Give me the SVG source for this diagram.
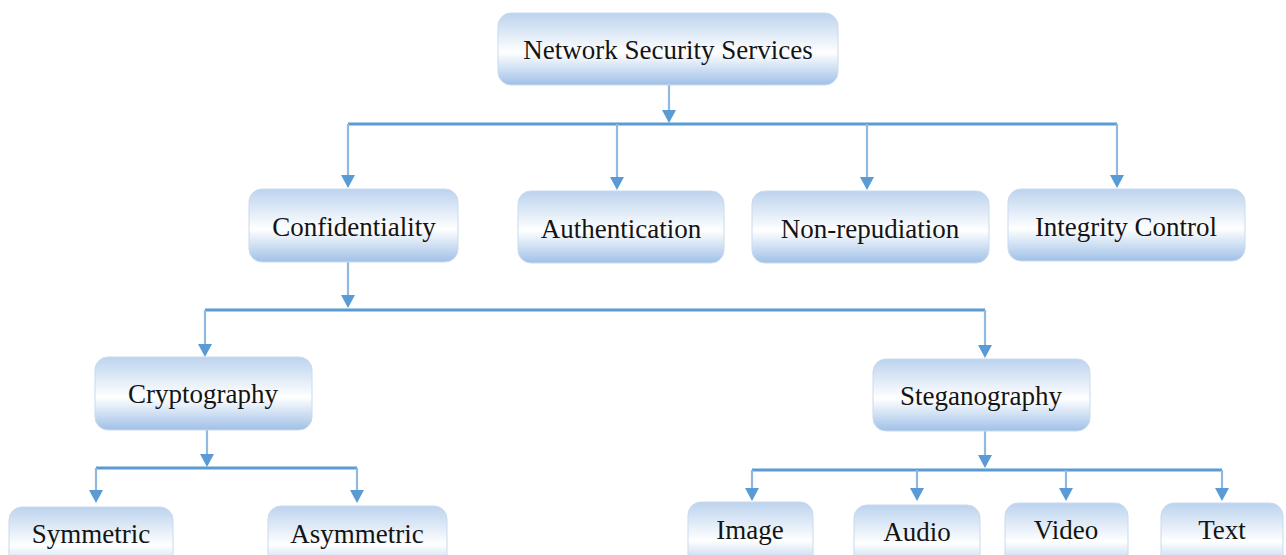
<svg xmlns="http://www.w3.org/2000/svg" width="1286" height="555" viewBox="0 0 1286 555">
<style>
.box{fill:url(#g);stroke:#c9daee;stroke-width:1}
.t{font-family:"Liberation Serif","Times New Roman",serif;font-size:27px;fill:#141414;text-anchor:middle}
.h{stroke:#5b9bd5;stroke-width:3;fill:none}
.v{stroke:#8fb9e3;stroke-width:2.2;fill:none}
.ah{fill:#5b9bd5}
</style>
<defs>
<linearGradient id="g" x1="0" y1="0" x2="0" y2="1">
<stop offset="0" stop-color="#bcd3ee"/>
<stop offset="0.55" stop-color="#ffffff"/>
<stop offset="1" stop-color="#9fc0e7"/>
</linearGradient>
</defs>
<g id="connectors">
<path class="v" d="M669,85 V111"/>
<path class="ah" d="M662,110 H676 L669,123 Z"/>
<path class="h" d="M348,124 H1117"/>
<path class="v" d="M348,124 V176"/><path class="ah" d="M341,175 H355 L348,188 Z"/>
<path class="v" d="M617,124 V178"/><path class="ah" d="M610,177 H624 L617,190 Z"/>
<path class="v" d="M867,124 V178"/><path class="ah" d="M860,177 H874 L867,190 Z"/>
<path class="v" d="M1117,124 V176"/><path class="ah" d="M1110,175 H1124 L1117,188 Z"/>

<path class="v" d="M348,262 V296"/><path class="ah" d="M341,295 H355 L348,308 Z"/>
<path class="h" d="M205,310 H985"/>
<path class="v" d="M205,310 V345"/><path class="ah" d="M198,344 H212 L205,357 Z"/>
<path class="v" d="M985,310 V346"/><path class="ah" d="M978,345 H992 L985,358 Z"/>

<path class="v" d="M207,430 V455"/><path class="ah" d="M200,454 H214 L207,467 Z"/>
<path class="h" d="M96,468 H357"/>
<path class="v" d="M96,468 V491"/><path class="ah" d="M89,490 H103 L96,503 Z"/>
<path class="v" d="M357,468 V491"/><path class="ah" d="M350,490 H364 L357,503 Z"/>

<path class="v" d="M985,431 V456"/><path class="ah" d="M978,455 H992 L985,468 Z"/>
<path class="h" d="M752,470 H1222"/>
<path class="v" d="M752,470 V489"/><path class="ah" d="M745,488 H759 L752,501 Z"/>
<path class="v" d="M917,470 V489"/><path class="ah" d="M910,488 H924 L917,501 Z"/>
<path class="v" d="M1066,470 V489"/><path class="ah" d="M1059,488 H1073 L1066,501 Z"/>
<path class="v" d="M1222,470 V489"/><path class="ah" d="M1215,488 H1229 L1222,501 Z"/>
</g>
<g id="n-root"><rect class="box" x="498" y="13" width="340" height="72" rx="13"/><text class="t" x="668" y="59">Network Security Services</text></g>
<g id="n-conf"><rect class="box" x="249" y="189" width="209" height="73" rx="13"/><text class="t" x="354" y="236">Confidentiality</text></g>
<g id="n-auth"><rect class="box" x="518" y="191" width="206" height="72" rx="13"/><text class="t" x="621" y="238">Authentication</text></g>
<g id="n-nonrep"><rect class="box" x="752" y="191" width="237" height="72" rx="13"/><text class="t" x="870" y="238">Non-repudiation</text></g>
<g id="n-integ"><rect class="box" x="1008" y="189" width="237" height="72" rx="13"/><text class="t" x="1126" y="236">Integrity Control</text></g>
<g id="n-crypto"><rect class="box" x="95" y="357" width="217" height="73" rx="13"/><text class="t" x="203" y="403">Cryptography</text></g>
<g id="n-stego"><rect class="box" x="873" y="359" width="217" height="72" rx="13"/><text class="t" x="981" y="405">Steganography</text></g>
<g id="n-sym"><rect class="box" x="9" y="507" width="164" height="70" rx="13"/><text class="t" x="91" y="543">Symmetric</text></g>
<g id="n-asym"><rect class="box" x="268" y="506" width="179" height="70" rx="13"/><text class="t" x="357" y="543">Asymmetric</text></g>
<g id="n-image"><rect class="box" x="688" y="502" width="125" height="70" rx="13"/><text class="t" x="750" y="539">Image</text></g>
<g id="n-audio"><rect class="box" x="854" y="505" width="126" height="70" rx="13"/><text class="t" x="917" y="541">Audio</text></g>
<g id="n-video"><rect class="box" x="1005" y="503" width="123" height="70" rx="13"/><text class="t" x="1066" y="539">Video</text></g>
<g id="n-text"><rect class="box" x="1161" y="503" width="122" height="70" rx="13"/><text class="t" x="1222" y="539">Text</text></g>
</svg>
